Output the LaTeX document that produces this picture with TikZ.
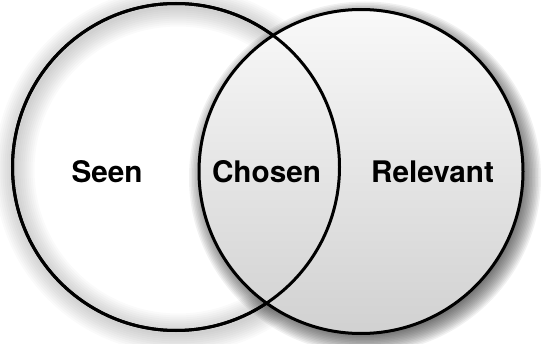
\documentclass[tikz,border=0pt]{standalone}
\usepackage{fontspec}
\setmainfont{TeX Gyre Heros}
\begin{document}
\begin{tikzpicture}[x=1pt,y=1pt,
  setcircle/.style={circle, line width=3pt, inner sep=0pt, outer sep=0pt},
  lbl/.style={anchor=base, font=\bfseries\fontsize{29.7}{32}\selectfont}]
\useasboundingbox (0,0) rectangle (541,343);
\coordinate (sc) at (176,176);
\coordinate (rc) at (361,171.5);
% the "Seen" set: an unfilled ring with a soft halo along its stroke
\foreach \w in {4,8,...,40}
  \draw[black, opacity=0.02, line width=\w pt]
    ([shift={(2,-3)}]sc) circle (163.5pt);
\node[setcircle, draw=black, minimum size=327pt] (seen) at (sc) {};
% soft drop shadow under the "Relevant" set
\foreach \d in {0,...,13}
  \fill[black, opacity=0.055] ([shift={(4,-6)}]rc) circle ({176pt-\d*1.5pt});
% the "Relevant" set, shaded grey, lying over it
\node[setcircle, draw=black, minimum size=324pt, top color=gray!5, bottom color=gray!36]
  (relevant) at (rc) {};
% outline of "Seen" redrawn on top so the overlap shows both borders
\draw[line width=3pt] (seen.center) circle (163.5pt);
% labels
\node[lbl] (tseen) at (107,160) {Seen};
\node[lbl] (tchosen) at (266.5,160) {Chosen};
\node[lbl] (trelevant) at (432.5,160) {Relevant};
\end{tikzpicture}
\end{document}
